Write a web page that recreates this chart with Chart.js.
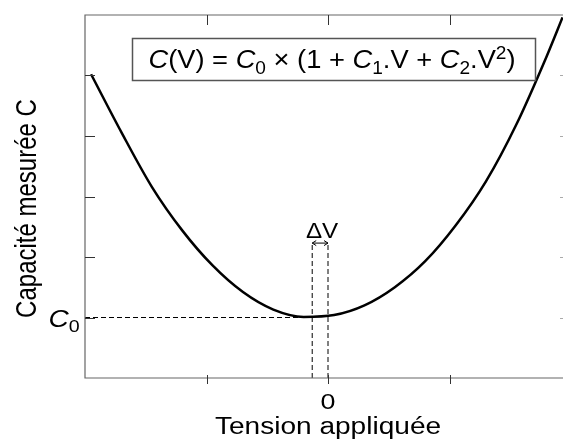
<!DOCTYPE html>
<html><head><meta charset="utf-8">
<script src="https://cdn.jsdelivr.net/npm/chart.js@4/dist/chart.umd.min.js"></script>
<style>html,body{margin:0;padding:0;background:#fff}canvas{display:block}</style>
</head><body>
<canvas id="c" width="563" height="440"></canvas>
<script>
// Data
const voltage = [-1.95,-1.70,-1.45,-1.20,-0.95,-0.70,-0.45,-0.20,0.05,0.30,0.55,0.80,1.05,1.30,1.55,1.80,1.93];
const capacitance = [5.02,4.06,3.16,2.44,1.86,1.42,1.13,1.01,1.04,1.20,1.50,1.93,2.52,3.25,4.19,5.32,5.96];
const xTicks = [-1, 0, 1];
const yTicks = [1, 2, 3, 4, 5];
const xTickLabels = ['', '0', ''];
const C0 = 1;
const vMin = -0.13;
const dashTop = 2.23;
const xRange = [-2, 1.934];
const yRange = [0, 6];

const FONT = '"Liberation Sans", Arial, sans-serif';
const SX = 1.22;

function stretchedText(ctx, str, x, y, font, align, sx) {
  ctx.save();
  ctx.font = font;
  ctx.translate(x, y);
  ctx.scale(sx, 1);
  ctx.textAlign = align || 'left';
  ctx.textBaseline = 'alphabetic';
  ctx.fillText(str, 0, 0);
  ctx.restore();
}

function richText(ctx, parts, cx, baseline, size, sx) {
  ctx.save();
  const widths = parts.map(([t, s]) => {
    const sz = (s === 'sub' || s === 'sup') ? size * 0.7 : size;
    ctx.font = (s === 'i' ? 'italic ' : '') + sz + 'px ' + FONT;
    return ctx.measureText(t).width * sx;
  });
  const total = widths.reduce((a, b) => a + b, 0);
  let x = cx - total / 2;
  parts.forEach(([t, s], i) => {
    const sz = (s === 'sub' || s === 'sup') ? size * 0.7 : size;
    let y = baseline;
    if (s === 'sub') y += size * 0.22;
    if (s === 'sup') y -= size * 0.36;
    stretchedText(ctx, t, x, y, (s === 'i' ? 'italic ' : '') + sz + 'px ' + FONT, 'left', sx);
    x += widths[i];
  });
  ctx.restore();
}

const decor = {
  id: 'decor',
  afterDraw(chart) {
    const ctx = chart.ctx;
    const xs = chart.scales.x, ys = chart.scales.y;
    const L = xs.left, R = xs.right, T = ys.top, B = ys.bottom;
    ctx.save();
    ctx.fillStyle = '#000';
    // frame (right side lies at the picture's edge)
    ctx.strokeStyle = '#666';
    ctx.lineWidth = 1.2;
    ctx.beginPath();
    ctx.moveTo(R + 2, T); ctx.lineTo(L, T); ctx.lineTo(L, B); ctx.lineTo(R + 2, B);
    ctx.stroke();
    // ticks
    ctx.strokeStyle = '#333';
    ctx.lineWidth = 1;
    ctx.beginPath();
    xTicks.forEach(v => {
      const px = Math.round(xs.getPixelForValue(v)) + 0.5;
      ctx.moveTo(px, B - 3); ctx.lineTo(px, B + 6);
      ctx.moveTo(px, T); ctx.lineTo(px, T + 10);
    });
    yTicks.forEach(v => {
      const py = Math.round(ys.getPixelForValue(v)) + 0.5;
      ctx.moveTo(L, py); ctx.lineTo(L + 10, py);
    });
    ctx.stroke();
    ctx.strokeStyle = '#aaa';
    ctx.beginPath();
    yTicks.forEach(v => {
      const py = Math.round(ys.getPixelForValue(v)) + 0.5;
      ctx.moveTo(R, py); ctx.lineTo(R - 3, py);
    });
    ctx.stroke();
    // x tick labels
    xTicks.forEach((v, i) => {
      if (xTickLabels[i]) stretchedText(ctx, xTickLabels[i], xs.getPixelForValue(v), B + 31, '22px ' + FONT, 'center', SX);
    });
    // C0 label
    const c0y = ys.getPixelForValue(C0);
    richText(ctx, [['C', 'i'], ['0', 'sub']], L - 21, c0y + 9, 23, SX);
    // axis titles
    stretchedText(ctx, 'Tension appliquée', xs.getPixelForValue(0), B + 56, '23px ' + FONT, 'center', SX);
    ctx.save();
    ctx.translate(36, (T + B) / 2 + 12);
    ctx.rotate(-Math.PI / 2);
    ctx.scale(1, SX);
    ctx.font = '24px ' + FONT;
    ctx.textAlign = 'center';
    ctx.fillText('Capacité mesurée C', 0, 0);
    ctx.restore();
    // equation box
    ctx.strokeStyle = '#555';
    ctx.lineWidth = 1.5;
    ctx.strokeRect(132.5, 38.5, 403, 42);
    richText(ctx, [['C','i'],['(V) = ',''],['C','i'],['0','sub'],[' \u00d7 (1 + ',''],['C','i'],['1','sub'],['.V + ',''],['C','i'],['2','sub'],['.V',''],['2','sup'],[')','']], 332, 68, 26, 1.05);
    // Delta V arrow and label
    const xa = xs.getPixelForValue(vMin), xb = xs.getPixelForValue(0);
    const ya = ys.getPixelForValue(dashTop);
    ctx.strokeStyle = '#000';
    ctx.lineWidth = 1;
    ctx.beginPath();
    ctx.moveTo(xa, ya); ctx.lineTo(xb, ya);
    ctx.moveTo(xa + 4, ya - 2.5); ctx.lineTo(xa, ya); ctx.lineTo(xa + 4, ya + 2.5);
    ctx.moveTo(xb - 4, ya - 2.5); ctx.lineTo(xb, ya); ctx.lineTo(xb - 4, ya + 2.5);
    ctx.stroke();
    stretchedText(ctx, '\u0394V', (xa + xb) / 2 + 2, ya - 5, '22px ' + FONT, 'center', 1.1);
    ctx.restore();
  }
};

const pts = voltage.map((v, i) => ({x: v, y: capacitance[i]}));
new Chart(document.getElementById('c'), {
  type: 'scatter',
  data: {
    datasets: [
      {data: pts, showLine: true, borderColor: '#000', borderWidth: 2.5, pointRadius: 0, cubicInterpolationMode: 'monotone', order: 0},
      {data: [{x: xRange[0], y: C0}, {x: vMin, y: C0}], showLine: true, borderColor: '#000', borderWidth: 1, borderDash: [5, 3], pointRadius: 0, order: 1},
      {data: [{x: vMin, y: yRange[0]}, {x: vMin, y: dashTop}], showLine: true, borderColor: '#000', borderWidth: 1, borderDash: [5, 3], pointRadius: 0, order: 1},
      {data: [{x: 0, y: yRange[0]}, {x: 0, y: dashTop}], showLine: true, borderColor: '#000', borderWidth: 1, borderDash: [5, 3], pointRadius: 0, order: 1}
    ]
  },
  options: {
    responsive: false,
    animation: false,
    devicePixelRatio: 1,
    layout: {padding: {left: 85, top: 15, right: 0, bottom: 62}},
    plugins: {legend: {display: false}, tooltip: {enabled: false}},
    scales: {
      x: {type: 'linear', min: xRange[0], max: xRange[1], display: false},
      y: {type: 'linear', min: yRange[0], max: yRange[1], display: false}
    }
  },
  plugins: [decor]
});
</script>
</body></html>
